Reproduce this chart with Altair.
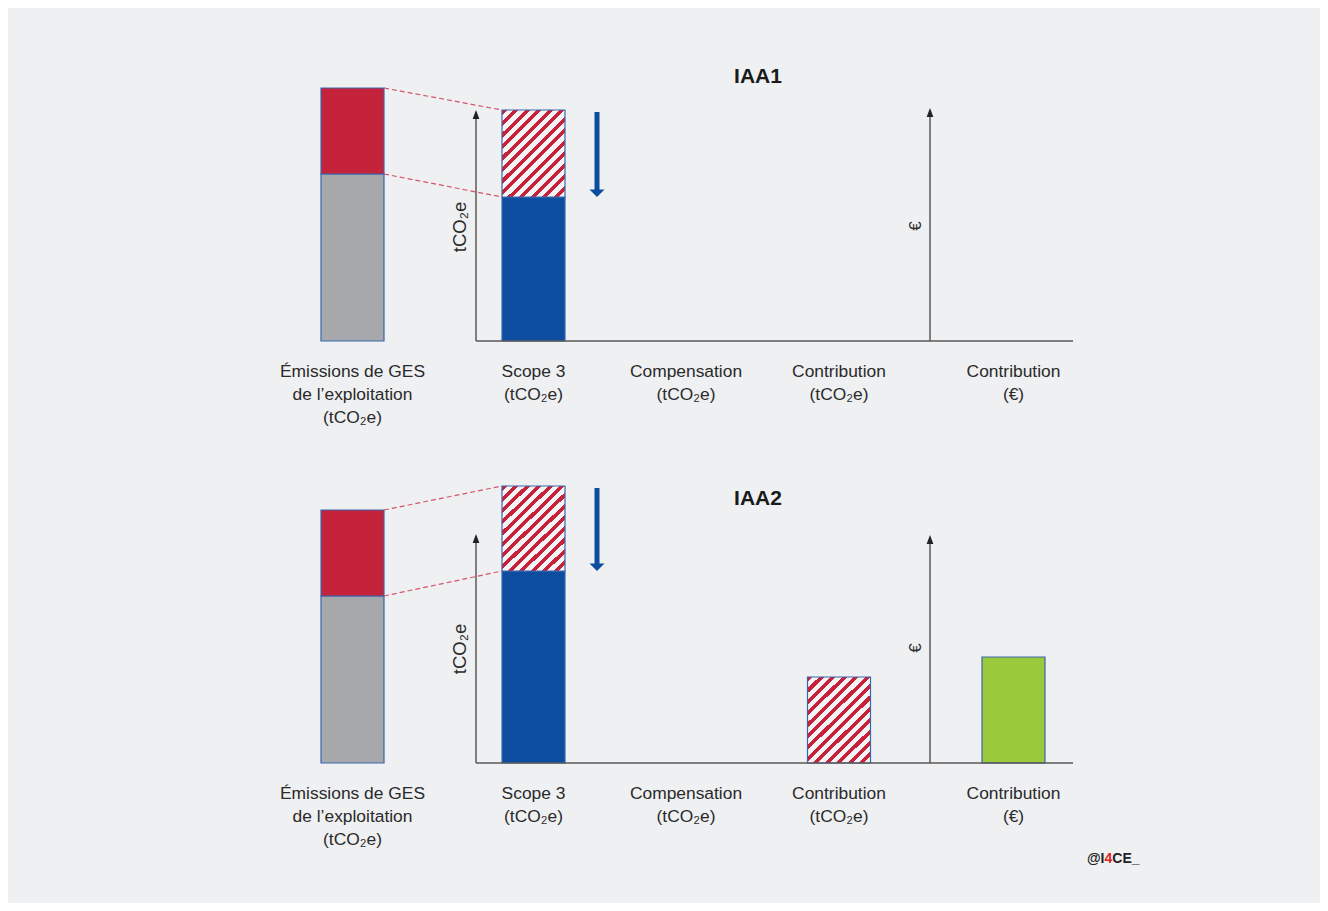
import altair as alt
import pandas as pd

# ---------------- data (arbitrary tCO2e / € units) ----------------
panels = ["IAA1", "IAA2"]
categories = [
    "Émissions de GES\nde l’exploitation\n(tCO₂e)",
    "Scope 3\n(tCO₂e)",
    "Compensation\n(tCO₂e)",
    "Contribution\n(tCO₂e)",
    "Contribution\n(€)",
]
emissions_other = [167, 167]     # grey part of the farm's emissions
emissions_iaa = [86, 86]         # red part (in the IAA's scope 3)
scope3_kept = [144, 192]         # blue part of scope 3
scope3_reduction = [87, 85]      # hatched part of scope 3 (to reduce)
compensation = [0, 0]
contribution_t = [0, 86]
contribution_eur = [0, 106]
axis_top_t = [231, 229]
axis_top_eur = [233, 228]
watermark = ["@I", "4", "CE_"]

# ---------------- layout & style ----------------
W = 1312
ROW_H = [422, 473]
TOP = 333
cat_x = [344.5, 525.5, 678, 831, 1005.5]
BAR_W = 63
AXIS_T_X = 468
AXIS_E_X = 922
BASE_END = 1065
ARROW_X = 589
FONT = "Liberation Sans"

RED = "#c5233b"
GREY = "#a7a8ab"
BLUE = "#0c4da0"
GREEN = "#9aca3c"
EDGE = "#3a66ad"
HATCH_RED = "#c8213a"
HATCH_W = "#f4f4f6"
TXT = "#2a2a2a"

N = 13
stops = []
for k in range(N):
    stops += [
        {"offset": k / N, "color": HATCH_RED},
        {"offset": (k + 0.45) / N, "color": HATCH_RED},
        {"offset": (k + 0.45) / N, "color": HATCH_W},
        {"offset": (k + 1) / N, "color": HATCH_W},
    ]
hatch = {"gradient": "linear", "x1": 0, "y1": 0, "x2": 0.815, "y2": 1.13, "stops": stops}

xs = alt.Scale(domain=[0, W], nice=False, zero=False)


def make_row(i):
    ys = alt.Scale(domain=[TOP - ROW_H[i], TOP], nice=False, zero=False)
    X = lambda f: alt.X(f"{f}:Q", scale=xs, axis=None)
    X2 = lambda f: alt.X2(f"{f}:Q")
    Y = lambda f: alt.Y(f"{f}:Q", scale=ys, axis=None)
    Y2 = lambda f: alt.Y2(f"{f}:Q")

    def box(c, y0, y1, fill=None):
        return {"x0": cat_x[c] - BAR_W / 2, "x1": cat_x[c] + BAR_W / 2, "y0": y0, "y1": y1, "fill": fill}

    solid = [
        box(0, 0, emissions_other[i], GREY),
        box(0, emissions_other[i], emissions_other[i] + emissions_iaa[i], RED),
        box(1, 0, scope3_kept[i], BLUE),
    ]
    if contribution_eur[i] > 0:
        solid.append(box(4, 0, contribution_eur[i], GREEN))
    hatched = [box(1, scope3_kept[i], scope3_kept[i] + scope3_reduction[i])]
    if compensation[i] > 0:
        hatched.append(box(2, 0, compensation[i]))
    if contribution_t[i] > 0:
        hatched.append(box(3, 0, contribution_t[i]))

    solid_l = alt.Chart(pd.DataFrame(solid)).mark_rect(stroke=EDGE, strokeWidth=1.2).encode(
        x=X("x0"), x2=X2("x1"), y=Y("y0"), y2=Y2("y1"), fill=alt.Fill("fill:N", scale=None))
    hatch_l = alt.Chart(pd.DataFrame(hatched)).mark_rect(fill=hatch, stroke=EDGE, strokeWidth=1.2).encode(
        x=X("x0"), x2=X2("x1"), y=Y("y0"), y2=Y2("y1"))

    # dashed connectors from the farm bar to the scope 3 bar
    xa = cat_x[0] + BAR_W / 2
    xb = cat_x[1] - BAR_W / 2
    dash = pd.DataFrame([
        {"x0": xa, "x1": xb, "y0": emissions_other[i] + emissions_iaa[i], "y1": scope3_kept[i] + scope3_reduction[i]},
        {"x0": xa, "x1": xb, "y0": emissions_other[i], "y1": scope3_kept[i]},
    ])
    dash_l = alt.Chart(dash).mark_rule(color="#d6546a", strokeWidth=1.2, strokeDash=[5, 3]).encode(
        x=X("x0"), x2=X2("x1"), y=Y("y0"), y2=Y2("y1"))

    # axes
    axes = pd.DataFrame([
        {"x0": AXIS_T_X, "x1": AXIS_T_X, "y0": 0, "y1": axis_top_t[i] - 4},
        {"x0": AXIS_E_X, "x1": AXIS_E_X, "y0": 0, "y1": axis_top_eur[i] - 4},
        {"x0": AXIS_T_X, "x1": BASE_END, "y0": 0, "y1": 0},
    ])
    axes_l = alt.Chart(axes).mark_rule(color="#5a5a5a", strokeWidth=1.5).encode(
        x=X("x0"), x2=X2("x1"), y=Y("y0"), y2=Y2("y1"))
    heads = pd.DataFrame([
        {"x": AXIS_T_X, "y": axis_top_t[i] - 4.5},
        {"x": AXIS_E_X, "y": axis_top_eur[i] - 4.5},
    ])
    heads_l = alt.Chart(heads).mark_point(shape="M0,-1L0.75,1L-0.75,1Z", filled=True, size=81,
                                          color="#222222", opacity=1).encode(x=X("x"), y=Y("y"))

    # blue reduction arrow
    top = scope3_kept[i] + scope3_reduction[i]
    shaft = pd.DataFrame([{"x": ARROW_X, "y0": top - 2, "y1": scope3_kept[i] + 6}])
    shaft_l = alt.Chart(shaft).mark_rule(color=BLUE, strokeWidth=5).encode(
        x=X("x"), y=Y("y0"), y2=Y2("y1"))
    ahead = pd.DataFrame([{"x": ARROW_X, "y": scope3_kept[i] + 3.75}])
    ahead_l = alt.Chart(ahead).mark_point(shape="M-1,-0.5L1,-0.5L0,0.5Z", filled=True, size=225,
                                          color=BLUE, opacity=1).encode(x=X("x"), y=Y("y"))

    # texts
    labels = pd.DataFrame({"x": cat_x, "y": [-36] * 5, "t": categories})
    labels_l = alt.Chart(labels).mark_text(lineBreak="\n", lineHeight=23, fontSize=17.4, font=FONT,
                                           align="center", baseline="alphabetic", color=TXT).encode(
        x=X("x"), y=Y("y"), text="t:N")
    title_l = alt.Chart(pd.DataFrame([{"x": 750, "y": 258, "t": panels[i]}])).mark_text(
        fontSize=21, fontWeight="bold", font=FONT, align="center", baseline="alphabetic", color="#1a1a1a").encode(
        x=X("x"), y=Y("y"), text="t:N")
    yt_l = alt.Chart(pd.DataFrame([{"x": 452, "y": 114, "t": "tCO₂e"}])).mark_text(
        fontSize=18.5, font=FONT, angle=270, align="center", baseline="middle", color=TXT).encode(
        x=X("x"), y=Y("y"), text="t:N")
    ye_l = alt.Chart(pd.DataFrame([{"x": 908, "y": 115, "t": "€"}])).mark_text(
        fontSize=17, font=FONT, angle=270, align="center", baseline="middle", color=TXT).encode(
        x=X("x"), y=Y("y"), text="t:N")

    layers = [solid_l, hatch_l, dash_l, axes_l, heads_l, shaft_l, ahead_l, labels_l, title_l, yt_l, ye_l]

    if i == 1:
        wm = pd.DataFrame([
            {"x": 1096.5, "y": -100, "t": watermark[0], "a": "right", "c": "#222222"},
            {"x": 1096.5, "y": -100, "t": watermark[1], "a": "left", "c": "#e2231a"},
            {"x": 1104.3, "y": -100, "t": watermark[2], "a": "left", "c": "#222222"},
        ])
        for _, r in wm.iterrows():
            layers.append(alt.Chart(pd.DataFrame([r])).mark_text(
                fontSize=14, fontWeight="bold", font=FONT, align=r["a"], baseline="alphabetic",
                color=r["c"]).encode(x=X("x"), y=Y("y"), text="t:N"))

    return alt.layer(*layers).properties(width=W, height=ROW_H[i])


chart = alt.vconcat(make_row(0), make_row(1), spacing=0).properties(
    background="#eff0f2", padding={"left": 0, "top": 0, "right": 0, "bottom": 0}
).configure_view(stroke=None, strokeWidth=0)

chart.save("out.html", embed_options={"renderer": "svg", "actions": False})
